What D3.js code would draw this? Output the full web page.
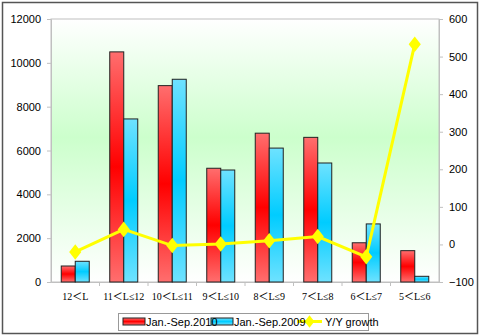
<!DOCTYPE html>
<html><head><meta charset="utf-8">
<script src="https://cdn.jsdelivr.net/npm/d3@7"></script>
<style>body{margin:0;background:#fff}svg{display:block}</style>
</head><body><svg id="c" width="480" height="336"></svg>
<script>
const categories = ["12＜L","11＜L≤12","10＜L≤11","9＜L≤10","8＜L≤9","7＜L≤8","6＜L≤7","5＜L≤6"];
const sales2010 = [730, 10500, 8960, 5190, 6790, 6600, 1790, 1430];
const sales2009 = [945, 7440, 9250, 5110, 6110, 5430, 2650, 260];
const growth = [-20, 40, -3, 1, 10, 21, -33, 533];
const leftTicks = [0,2000,4000,6000,8000,10000,12000];
const rightTicks = [-100,0,100,200,300,400,500,600];
const seriesNames = ["Jan.-Sep.2010","Jan.-Sep.2009","Y/Y growth"];

const svg = d3.select("#c");
const L=51,R=439,T=19,B=282;
const defs = svg.append("defs");
const bg = defs.append("linearGradient").attr("id","bg").attr("x1",0).attr("y1",0).attr("x2",0).attr("y2",1);
bg.append("stop").attr("offset","0%").attr("stop-color","#ffffff");
bg.append("stop").attr("offset","45%").attr("stop-color","#ccffcc");
bg.append("stop").attr("offset","100%").attr("stop-color","#ffffff");
function barGrad(id, light, dark){
  const g = defs.append("linearGradient").attr("id",id).attr("x1",0).attr("y1",0).attr("x2",0).attr("y2",1);
  g.append("stop").attr("offset","0%").attr("stop-color",light);
  g.append("stop").attr("offset","50%").attr("stop-color",dark);
  g.append("stop").attr("offset","100%").attr("stop-color",light);
}
barGrad("gr","#ff6e6e","#ff0000");
barGrad("gb","#6ee2ff","#00ccff");

// outer border
svg.append("rect").attr("x",2.5).attr("y",2.5).attr("width",475).attr("height",331).attr("fill","#fff").attr("stroke","#555").attr("stroke-width",1.5);

const x = d3.scaleBand().domain(categories).range([L,R]);
const xs = d3.scaleBand().domain([0,1]).range([0,28]);
const yL = d3.scaleLinear().domain([0,12000]).range([B,T]);
const yR = d3.scaleLinear().domain([-100,600]).range([B,T]);

svg.append("rect").attr("x",L).attr("y",T).attr("width",R-L).attr("height",B-T).attr("fill","url(#bg)").attr("stroke","#c0c0c0");

// axes
const font = "Arial, 'Liberation Sans', sans-serif";
const ax = svg.append("g").attr("transform",`translate(${L},0)`).call(d3.axisLeft(yL).tickValues(leftTicks).tickSize(4).tickPadding(6).tickFormat(d3.format("d")));
const ar = svg.append("g").attr("transform",`translate(${R},0)`).call(d3.axisRight(yR).tickValues(rightTicks).tickSize(4).tickPadding(6).tickFormat(d3.format("d")));
const axb = svg.append("g").attr("transform",`translate(0,${B})`).call(d3.axisBottom(x).tickSize(0).tickPadding(11));
[ax,ar].forEach(a=>{a.select(".domain").attr("stroke","#c0c0c0");a.selectAll(".tick line").attr("stroke","#c0c0c0");a.selectAll("text").attr("font-family",font).attr("font-size",11).attr("fill","#000");});
axb.select(".domain").attr("stroke","#c0c0c0");
axb.selectAll("text").attr("font-family","'Liberation Serif', 'Noto Sans CJK SC', serif").attr("font-size",10).attr("fill","#000");
// category boundary ticks
svg.append("g").selectAll("line").data(categories.slice(1)).join("line")
  .attr("x1",d=>x(d)).attr("x2",d=>x(d)).attr("y1",B).attr("y2",B+4).attr("stroke","#c0c0c0");

const off = (x.bandwidth()-28)/2;
const g = svg.append("g");
g.selectAll(".r").data(sales2010).join("rect").attr("class","r")
  .attr("x",(d,i)=>x(categories[i])+off+xs(0)).attr("width",xs.bandwidth())
  .attr("y",d=>yL(d)).attr("height",d=>B-yL(d)).attr("fill","url(#gr)").attr("stroke","#222").attr("stroke-width",1);
g.selectAll(".b").data(sales2009).join("rect").attr("class","b")
  .attr("x",(d,i)=>x(categories[i])+off+xs(1)).attr("width",xs.bandwidth())
  .attr("y",d=>yL(d)).attr("height",d=>B-yL(d)).attr("fill","url(#gb)").attr("stroke","#222").attr("stroke-width",1);

const line = d3.line().x((d,i)=>x(categories[i])+x.bandwidth()/2).y(d=>yR(d));
svg.append("path").datum(growth).attr("d",line).attr("fill","none").attr("stroke","#ffff00").attr("stroke-width",3);
const diamond = d3.symbol().type(d3.symbolDiamond).size(70);
svg.append("g").selectAll("path").data(growth).join("path")
  .attr("transform",(d,i)=>`translate(${x(categories[i])+x.bandwidth()/2},${yR(d)}) scale(1.35,1)`)
  .attr("d",diamond).attr("fill","#ffff00");

// legend
const lg = svg.append("g");
lg.append("rect").attr("x",118.5).attr("y",313.5).attr("width",250).attr("height",17).attr("fill","#fff").attr("stroke","#999");
const lx = [123, 211, 297];
lg.append("rect").attr("x",lx[0]).attr("y",318).attr("width",22).attr("height",7).attr("fill","url(#gr)").attr("stroke","#222");
lg.append("rect").attr("x",lx[1]).attr("y",318).attr("width",22).attr("height",7).attr("fill","url(#gb)").attr("stroke","#222");
lg.append("line").attr("x1",lx[2]).attr("x2",lx[2]+25).attr("y1",321.5).attr("y2",321.5).attr("stroke","#ffff00").attr("stroke-width",3);
lg.append("path").attr("transform",`translate(${lx[2]+12.5},321.5) scale(1.35,1)`).attr("d",d3.symbol().type(d3.symbolDiamond).size(45)).attr("fill","#ffff00");
lg.selectAll("text").data(seriesNames).join("text")
  .attr("x",(d,i)=>[146,234,325][i]).attr("y",326).attr("font-family",font).attr("font-size",11).attr("fill","#000").text(d=>d);
</script></body></html>
